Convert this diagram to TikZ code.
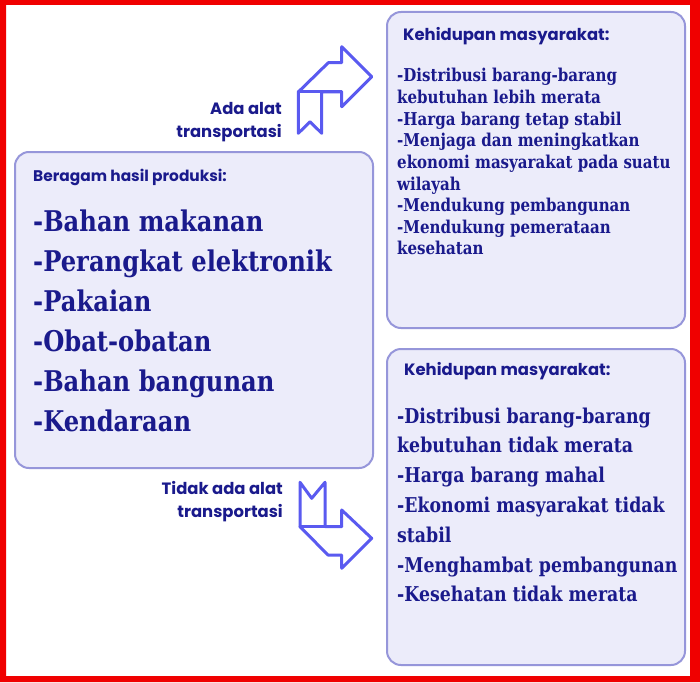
\documentclass[tikz,border=0pt]{standalone}
\usepackage{fontspec}
\setmainfont{DejaVu Serif}
\newfontfamily\headfont{Poppins}
\newfontfamily\serifb{DejaVu Serif}[FakeStretch=0.85]
\definecolor{framered}{RGB}{240,0,0}
\definecolor{panelfill}{RGB}{236,236,250}
\definecolor{paneledge}{RGB}{150,150,218}
\definecolor{ink}{RGB}{26,26,140}
\definecolor{arrowblue}{RGB}{90,90,240}
\tikzset{
  panel/.style={draw=paneledge, line width=2pt, fill=panelfill, rounded corners=14pt, inner sep=0pt},
  headtext/.style={font=\headfont\bfseries\fontsize{16.4}{19}\selectfont, text=ink, inner sep=0pt},
  bigtext/.style={font=\serifb\bfseries\fontsize{28.5}{34}\selectfont, text=ink, inner sep=0pt, anchor=base west},
  midtext/.style={font=\serifb\bfseries\fontsize{20.4}{24}\selectfont, text=ink, inner sep=0pt, anchor=base west},
  smalltext/.style={font=\serifb\bfseries\fontsize{17.7}{21}\selectfont, text=ink, inner sep=0pt, anchor=base west},
  bentarrow/.style={draw=arrowblue, line width=3pt, fill=white, line join=round},
  foldline/.style={draw=arrowblue, line width=3pt, line cap=round}
}
\begin{document}
\begin{tikzpicture}[x=1pt,y=-1pt]
\useasboundingbox (0,0) rectangle (700,682);
\fill[white] (0,0) rectangle (700,682);
\fill[framered, even odd rule] (0,0) rectangle (700,682) (6,5) rectangle (690,676);

% panels
\node[panel, minimum width=358pt, minimum height=316pt] (left) at (194,310) {};
\node[panel, minimum width=298pt, minimum height=316pt] (topright) at (536,170) {};
\node[panel, minimum width=298pt, minimum height=316pt] (botright) at (536,507) {};

% left panel text
\node[headtext, font=\headfont\bfseries\fontsize{15.4}{18}\selectfont, anchor=base west] (lefthead) at (33,181.7) {Beragam hasil produksi:};
\foreach \t [count=\i] in {-Bahan makanan,-Perangkat elektronik,-Pakaian,-Obat-obatan,-Bahan bangunan,-Kendaraan}
  \node[bigtext] (L\i) at (33,{231.7+40*(\i-1)}) {\t};

% top right panel text
\node[headtext, anchor=base west] (tophead) at (403,40.7) {Kehidupan masyarakat:};
\foreach \t [count=\i] in {-Distribusi barang-barang,kebutuhan lebih merata,-Harga barang tetap stabil,-Menjaga dan meningkatkan,ekonomi masyarakat pada suatu,wilayah,-Mendukung pembangunan,-Mendukung pemerataan,kesehatan}
  \node[smalltext] (T\i) at (397,{82+21.6*(\i-1)}) {\t};

% bottom right panel text
\node[headtext, anchor=base west] (bothead) at (404,375) {Kehidupan masyarakat:};
\foreach \t [count=\i] in {-Distribusi barang-barang,kebutuhan tidak merata,-Harga barang mahal,-Ekonomi masyarakat tidak,stabil,-Menghambat pembangunan,-Kesehatan tidak merata}
  \node[midtext] (B\i) at (397,{423+29.8*(\i-1)}) {\t};

% labels
\node[headtext, anchor=base east] (ada1) at (282,114) {Ada alat};
\node[headtext, anchor=base east] (ada2) at (282,137) {transportasi};
\node[headtext, anchor=base east] (tdk1) at (283,494) {Tidak ada alat};
\node[headtext, anchor=base east] (tdk2) at (283,517) {transportasi};

% top bent arrow
\coordinate (ua1) at (298.3,92);
\coordinate (ua2) at (341.7,92);
\draw[bentarrow] (371.7,76.7) -- (341.7,46.7) -- (341.7,62.7) -- (328.3,62.7) -- (ua1)
  -- (298.3,133.3) -- (310,121.7) -- (321.7,133.3) -- (321.7,92) -- (ua2)
  -- (341.7,106.7) -- cycle;
\draw[foldline] (ua1) -- (ua2);

% bottom bent arrow
\coordinate (da1) at (300,526.7);
\coordinate (da2) at (341.7,526.7);
\draw[bentarrow] (300,482.3) -- (311.7,498.3) -- (325,482.3) -- (325,526.7) -- (da2)
  -- (341.7,510) -- (371.7,538.3) -- (341.7,568.3) -- (341.7,555) -- (328,555)
  -- (da1) -- cycle;
\draw[foldline] (da1) -- (da2);
\end{tikzpicture}
\end{document}
